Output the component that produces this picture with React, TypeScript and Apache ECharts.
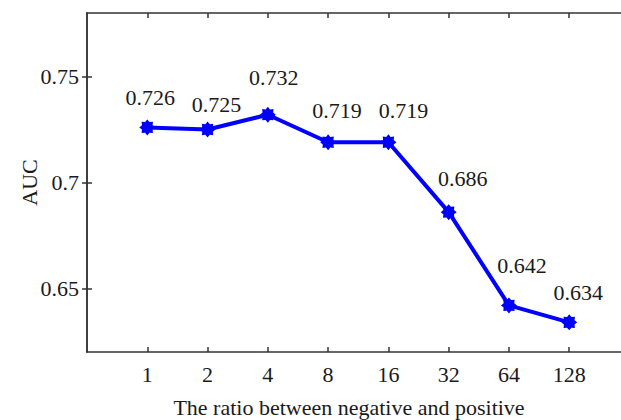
import React, { useEffect, useRef } from "react";
import * as echarts from "echarts";

// Imbalance ratio (negative : positive) and the AUC reached at each ratio
const categories = ["1", "2", "4", "8", "16", "32", "64", "128"];
const auc = [0.726, 0.725, 0.732, 0.719, 0.719, 0.686, 0.642, 0.634];
const yTicks = [0.65, 0.7, 0.75];
const xTicks = categories.map((_, i) => i + 1);

// Where each value label sits relative to its marker, in pixels [dx, dy]
const labelNudge: [number, number][] = [
  [3, -30],
  [9, -25],
  [6, -37],
  [9, -32],
  [15, -32],
  [14, -34],
  [13, -40],
  [9, -30],
];

const FONT = "'Liberation Serif', 'Times New Roman', serif";
const INK = "#1a1a1a";
const AXIS = "#333333";

// Eight-spoked asterisk-like marker as a closed polygon path
function asteriskPath(): string {
  const pts: string[] = [];
  const n = 16;
  for (let k = 0; k < n; k++) {
    const a = (Math.PI * 2 * k) / n - Math.PI / 2;
    const r = k % 2 === 0 ? 50 : 36;
    const x = 50 + r * Math.cos(a);
    const y = 50 + r * Math.sin(a);
    pts.push(`${k === 0 ? "M" : "L"}${x.toFixed(2)} ${y.toFixed(2)}`);
  }
  return "path://" + pts.join(" ") + " Z";
}

export default function App() {
  const ref = useRef<HTMLDivElement>(null);

  useEffect(() => {
    if (!ref.current) return;
    const chart = echarts.init(ref.current, null, { renderer: "svg" });

    const axisLine = { show: true, lineStyle: { color: AXIS, width: 1.5 } };
    const tickStyle = { color: AXIS, width: 1.5 };

    chart.setOption({
      animation: false,
      backgroundColor: "#ffffff",
      // the axes box runs slightly past the visible right edge
      grid: {
        left: 87,
        right: 1,
        top: 13,
        bottom: 68,
        containLabel: false,
        outerBoundsMode: "none",
      },
      xAxis: [
        {
          type: "value",
          min: 0,
          max: 8.925,
          position: "bottom",
          axisLine,
          splitLine: { show: false },
          axisTick: {
            show: true,
            inside: true,
            length: 5,
            customValues: xTicks,
            lineStyle: tickStyle,
          },
          axisLabel: {
            customValues: xTicks,
            formatter: (v: number) => categories[Math.round(v) - 1] ?? "",
            fontFamily: FONT,
            fontSize: 22,
            color: INK,
            margin: 11,
          },
          name: "The ratio between negative and positive",
          nameLocation: "middle",
          nameGap: 44,
          nameMoveOverlap: false,
          nameTextStyle: {
            fontFamily: FONT,
            fontSize: 22,
            color: INK,
            padding: [0, 14, 0, 0],
          },
        },
        {
          type: "value",
          min: 0,
          max: 8.925,
          position: "top",
          axisLine,
          splitLine: { show: false },
          axisTick: {
            show: true,
            inside: true,
            length: 5,
            customValues: xTicks,
            lineStyle: tickStyle,
          },
          axisLabel: { show: false },
        },
      ],
      yAxis: [
        {
          type: "value",
          min: 0.62,
          max: 0.78,
          position: "left",
          axisLine,
          splitLine: { show: false },
          axisTick: {
            show: true,
            inside: true,
            length: 5,
            customValues: yTicks,
            lineStyle: tickStyle,
          },
          axisLabel: {
            customValues: yTicks,
            formatter: (v: number) => String(v),
            fontFamily: FONT,
            fontSize: 22,
            color: INK,
            margin: 8,
          },
          name: "AUC",
          nameLocation: "middle",
          nameGap: 47,
          nameMoveOverlap: false,
          nameRotate: 90,
          nameTextStyle: { fontFamily: FONT, fontSize: 22, color: INK },
        },
        {
          type: "value",
          min: 0.62,
          max: 0.78,
          position: "right",
          axisLine,
          splitLine: { show: false },
          axisTick: {
            show: true,
            inside: true,
            length: 5,
            customValues: yTicks,
            lineStyle: tickStyle,
          },
          axisLabel: { show: false },
        },
      ],
      series: [
        {
          type: "line",
          xAxisIndex: 0,
          yAxisIndex: 0,
          data: auc.map((v, i) => ({
            value: [i + 1, v],
            label: { offset: labelNudge[i] },
          })),
          lineStyle: { color: "#0000ff", width: 4 },
          itemStyle: { color: "#0000ff" },
          symbol: asteriskPath(),
          symbolSize: 16,
          showAllSymbol: true,
          label: {
            show: true,
            position: "inside",
            formatter: (p: any) => p.value[1].toFixed(3),
            fontFamily: FONT,
            fontSize: 22,
            color: INK,
          },
          z: 3,
        },
      ],
    });

    return () => chart.dispose();
  }, []);

  return (
    <div
      style={{
        position: "fixed",
        left: 0,
        top: 0,
        width: 621,
        height: 420,
        overflow: "hidden",
        background: "#ffffff",
      }}
    >
      <div ref={ref} style={{ width: 626, height: 420 }} />
    </div>
  );
}
